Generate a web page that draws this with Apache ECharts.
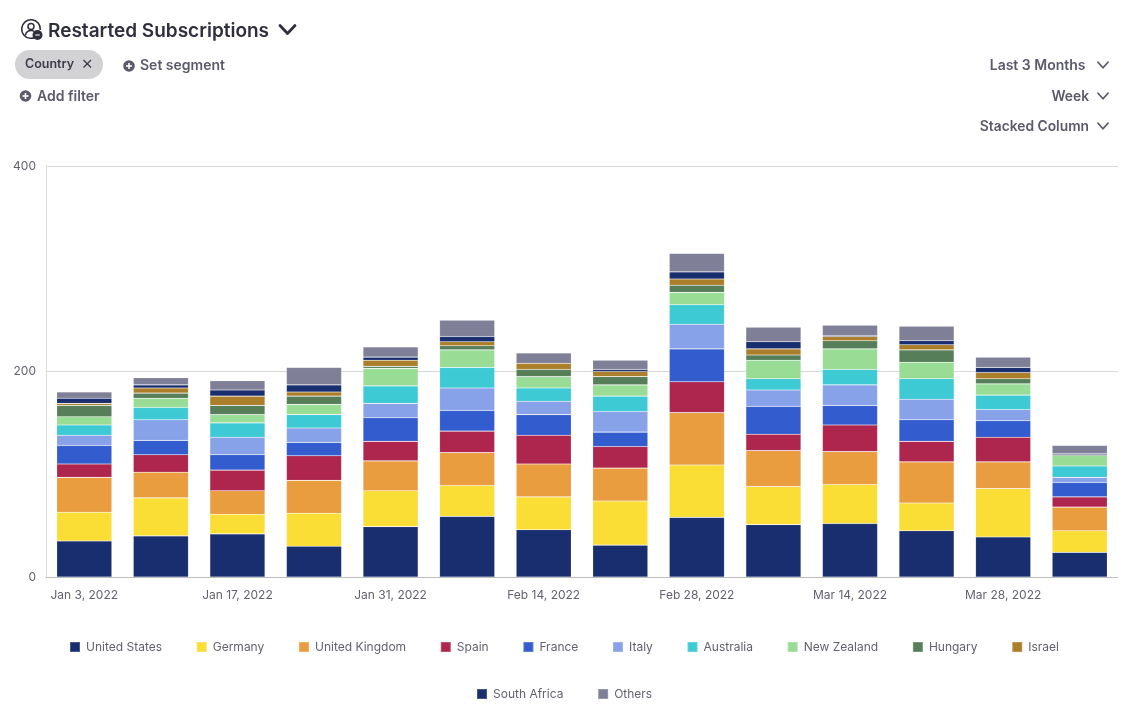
<!DOCTYPE html>
<html>
<head>
<meta charset="utf-8">
<style>html,body{margin:0;padding:0;background:#fff}#c{width:1125px;height:715px}</style>
<script src="https://cdn.jsdelivr.net/npm/echarts@6/dist/echarts.min.js"></script>
</head>
<body>
<div id="c"></div>
<script>
const categories = ['Jan 3, 2022','Jan 10, 2022','Jan 17, 2022','Jan 24, 2022','Jan 31, 2022','Feb 7, 2022','Feb 14, 2022','Feb 21, 2022','Feb 28, 2022','Mar 7, 2022','Mar 14, 2022','Mar 21, 2022','Mar 28, 2022','Apr 4, 2022'];
const unitedStates  = [35,40,42,30,49,59,46,31,58,51,52,45,39,24];
const germany       = [28,37,19,32,35,30,32,43,51,37,38,27,47,21];
const unitedKingdom = [34,25,23,32,29,32,32,32,51,35,32,40,26,23];
const spain         = [13,17,20,24,19,21,28,21,30,16,26,20,24,10];
const france        = [18,14,15,13,23,20,20,14,32,27,19,21,16,14];
const italy         = [10,20,17,14,14,22,13,20,24,16,20,20,11,5];
const australia     = [10,12,14,13,17,20,13,15,19,11,15,20,14,11];
const newZealand    = [8,9,8,10,17,17,11,11,12,18,20,16,11,10];
const hungary       = [11,5,9,8,2,4,7,8,7,5,8,12,5,1];
const israel        = [2,5,9,4,6,4,6,5,6,6,4,5,6,0];
const southAfrica   = [5,3,6,7,3,5,0,2,7,7,1,4,5,1];
const others        = [6,7,9,17,10,16,10,9,18,14,10,14,10,8];

const seriesNames = ['United States','Germany','United Kingdom','Spain','France','Italy','Australia','New Zealand','Hungary','Israel','South Africa','Others'];
const seriesValues = [unitedStates,germany,unitedKingdom,spain,france,italy,australia,newZealand,hungary,israel,southAfrica,others];
const colors = ['#182e6f','#fadd35','#ea9d3f','#ae264e','#335ccf','#88a2ea','#3dcad5','#98dc96','#567f59','#ab7e2a','#182e6f','#7f7f97'];

const FONT = 'Inter, "Noto Sans", sans-serif';
const HEAD = '#2f2f3d', SUB = '#5a5a6b';

function txt(x, y, text, size, weight, fill, align) {
  return {type:'text', x, y, silent:true, style:{text, fontFamily:FONT, fontSize:size, fontWeight:weight, fill, textAlign:align||'left', textVerticalAlign:'middle'}};
}
function chevron(cx, cy, w, h, lw, col) {
  return {type:'polyline', silent:true, shape:{points:[[cx-w/2,cy-h/2],[cx,cy+h/2],[cx+w/2,cy-h/2]]}, style:{stroke:col, lineWidth:lw, fill:'none', lineCap:'round', lineJoin:'round'}};
}
function plus(cx, cy) {
  return [
    {type:'circle', silent:true, shape:{cx, cy, r:5.8}, style:{fill:SUB}},
    {type:'line', silent:true, shape:{x1:cx-3,y1:cy,x2:cx+3,y2:cy}, style:{stroke:'#fff', lineWidth:1.6}},
    {type:'line', silent:true, shape:{x1:cx,y1:cy-3,x2:cx,y2:cy+3}, style:{stroke:'#fff', lineWidth:1.6}}
  ];
}
const graphics = [
  {type:'arc', silent:true, shape:{cx:31,cy:29,r:9.3,startAngle:0.1,endAngle:1.15,clockwise:false}, style:{stroke:HEAD,lineWidth:1.6,fill:'none'}},
  {type:'circle', silent:true, shape:{cx:31,cy:26.5,r:3}, style:{stroke:HEAD,lineWidth:1.5,fill:'none'}},
  {type:'arc', silent:true, shape:{cx:31,cy:36,r:5.6,startAngle:Math.PI*1.05,endAngle:Math.PI*1.7}, style:{stroke:HEAD,lineWidth:1.5,fill:'none'}},
  {type:'circle', silent:true, shape:{cx:37.5,cy:35,r:5}, style:{fill:HEAD}},
  {type:'line', silent:true, shape:{x1:35.3,y1:35,x2:39.7,y2:35}, style:{stroke:'#fff',lineWidth:1.1}},
  txt(48, 31, 'Restarted Subscriptions', 19, 600, HEAD),
  chevron(287.5, 29.5, 15, 8, 2.8, HEAD),
  {type:'rect', silent:true, shape:{x:15,y:50,width:88,height:29,r:14.5}, style:{fill:'#d2d2d4'}},
  txt(25, 64, 'Country', 12.5, 600, '#3a3a48'),
  {type:'line', silent:true, shape:{x1:83.5,y1:60,x2:91,y2:67.5}, style:{stroke:'#3a3a48',lineWidth:1.3}},
  {type:'line', silent:true, shape:{x1:91,y1:60,x2:83.5,y2:67.5}, style:{stroke:'#3a3a48',lineWidth:1.3}},
  ...plus(129, 66),
  txt(140, 65.5, 'Set segment', 14, 600, SUB),
  ...plus(25.5, 96),
  txt(37, 96.5, 'Add filter', 14, 600, SUB),
  txt(1085.5, 65.5, 'Last 3 Months', 14, 600, SUB, 'right'),
  chevron(1103, 65, 10, 5.5, 1.8, SUB),
  txt(1089, 96.5, 'Week', 13.8, 600, SUB, 'right'),
  chevron(1103, 96, 10, 5.5, 1.8, SUB),
  txt(1089, 126.5, 'Stacked Column', 13.8, 600, SUB, 'right'),
  chevron(1103, 126, 10, 5.5, 1.8, SUB)
];

const legendBase = {
  orient:'horizontal', icon:'rect', itemWidth:10, itemHeight:10, itemGap:33.7,
  textStyle:{color:'#62626e', fontFamily:FONT, fontSize:12, padding:[0,0,0,1]}, selectedMode:false
};
const chart = echarts.init(document.getElementById('c'), null, {renderer:'canvas'});
chart.setOption({
  animation:false,
  backgroundColor:'#fff',
  graphic:graphics,
  legend:[
    Object.assign({}, legendBase, {left:64, top:636, data:seriesNames.slice(0,10)}),
    Object.assign({}, legendBase, {left:471, top:683, data:seriesNames.slice(10)})
  ],
  grid:{left:46, right:7, top:166, height:411, containLabel:false},
  xAxis:{
    type:'category', data:categories,
    axisTick:{show:false},
    axisLine:{show:true, lineStyle:{color:'#bdbdbd', width:1}},
    axisLabel:{interval:1, color:'#62626e', fontFamily:FONT, fontSize:12, margin:12}
  },
  yAxis:{
    type:'value', min:0, max:400, interval:200,
    axisLine:{show:true, lineStyle:{color:'#dcdcdc', width:1}},
    axisTick:{show:false},
    splitLine:{lineStyle:{color:'#d8d8d8', width:1}},
    axisLabel:{color:'#62626e', fontFamily:FONT, fontSize:12, margin:10}
  },
  series:seriesNames.map((name,i)=>({
    name, type:'bar', stack:'total', data:seriesValues[i], barWidth:'72%',
    itemStyle:{color:colors[i], borderColor:'rgba(255,255,255,0.2)', borderWidth:0.6},
    emphasis:{disabled:true}
  }))
});
</script>
</body>
</html>
